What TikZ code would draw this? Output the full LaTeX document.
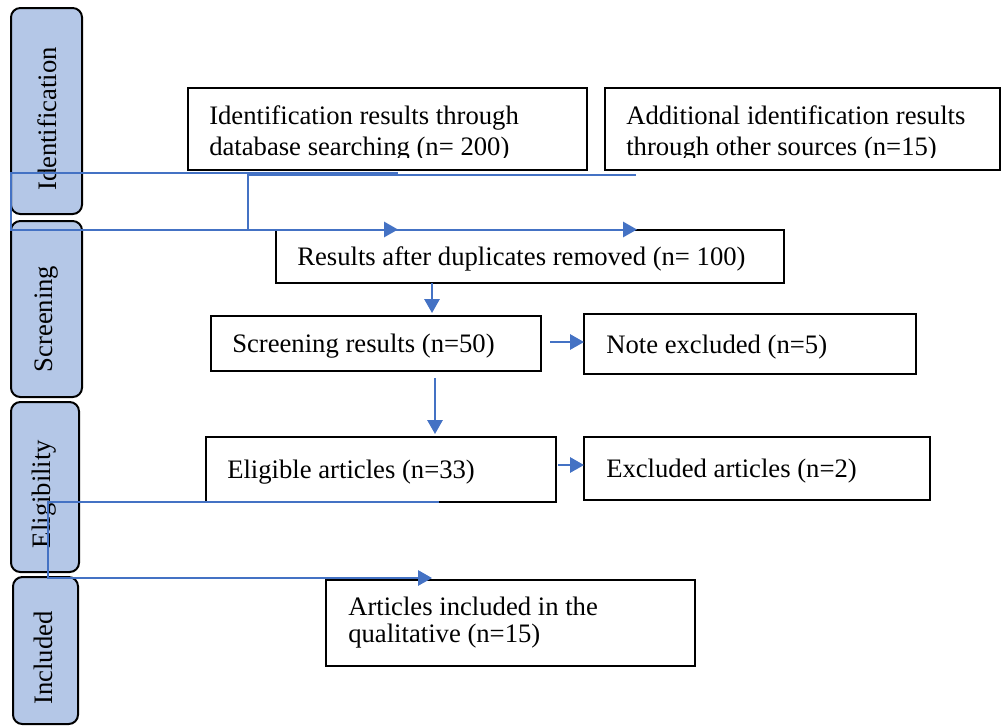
\documentclass[tikz,border=0pt]{standalone}
\usepackage{fontspec}
\setmainfont{Liberation Serif}
\usetikzlibrary{arrows.meta}
\definecolor{connblue}{HTML}{4472C4}
\definecolor{phasefill}{HTML}{B4C7E7}
\begin{document}
\begin{tikzpicture}[x=0.75pt,y=-0.75pt,
  box/.style={draw=black, line width=2.2pt, inner sep=0pt, outer sep=0pt, anchor=north west},
  phase/.style={draw=black, line width=1.5pt, fill=phasefill, rounded corners=7pt, inner sep=0pt, outer sep=0pt, anchor=north west},
  txt/.style={inner sep=0pt, anchor=base west, font=\fontsize{20pt}{24pt}\selectfont},
  ptxt/.style={inner sep=0pt, anchor=base, rotate=90, font=\fontsize{20pt}{24pt}\selectfont},
  conn/.style={draw=connblue, line width=1.5pt},
  arr/.style={conn, -{Triangle[length=10.5pt,width=11.5pt]}}]
\useasboundingbox (0,0) rectangle (1002,726);

% phase boxes
\node[phase, minimum width=53.25pt, minimum height=154.5pt] (p1) at (11,8) {};
\node[phase, minimum width=53.25pt, minimum height=132pt] (p2) at (11,221) {};
\node[phase, minimum width=51pt, minimum height=127.5pt] (p3) at (11,402) {};
\node[phase, minimum width=48.75pt, minimum height=110.25pt] (p4) at (13,577) {};
\node[ptxt] (l1) at (56,119) {Identification};
\node[ptxt] (l2) at (52,319) {Screening};
\node[ptxt] (l3) at (50,494) {Eligibility};
\node[ptxt] (l4) at (52,658) {Included};

% main boxes
\node[box, minimum width=299.25pt, minimum height=61.5pt] (b1) at (188,88) {};
\node[box, minimum width=296.25pt, minimum height=61.5pt] (b2) at (605,88) {};
\node[box, minimum width=381pt, minimum height=39.75pt] (b3) at (276,230) {};
\node[box, minimum width=247.5pt, minimum height=41.25pt] (b4) at (211,316) {};
\node[box, minimum width=249pt, minimum height=45pt] (b5) at (584,314) {};
\node[box, minimum width=262.5pt, minimum height=48.75pt] (b6) at (206,437) {};
\node[box, minimum width=259.5pt, minimum height=47.25pt] (b7) at (584,437) {};
\node[box, minimum width=276.75pt, minimum height=64.5pt] (b8) at (326,580) {};

% texts
\node[txt] (t1a) at (209,124) {Identification results through};
\node[txt] (t2a) at (626,124) {Additional identification results};
\begin{scope}
\clip (0,0) rectangle (1002,157.5);
\node[txt] (t1b) at (209,155) {database searching (n= 200)};
\node[txt] (t2b) at (626,155) {through other sources (n=15)};
\end{scope}
\node[txt] (t3) at (297,265) {Results after duplicates removed (n= 100)};
\node[txt] (t4) at (232,352) {Screening results (n=50)};
\node[txt] (t5) at (606,353) {Note excluded (n=5)};
\node[txt] (t6) at (227,478) {Eligible articles (n=33)};
\node[txt] (t7) at (606,477) {Excluded articles (n=2)};
\node[txt] (t8a) at (348,615) {Articles included in the};
\node[txt] (t8b) at (348,642) {qualitative (n=15)};

% connector anchors
\coordinate (c1s) at (398,173.3);
\coordinate (c1e) at (398,229.5);
\coordinate (c2s) at (636,174.5);
\coordinate (c2e) at (637,229.5);
\coordinate (c3s) at (439,502);
\coordinate (c3e) at (432,578);
\coordinate (xa) at (432,0);
\coordinate (xb) at (435,0);
\coordinate (ya) at (0,342);
\coordinate (yb) at (0,465);

% elbow connectors
\draw[arr] (c1s) -- ++(-387,0) |- (c1e);
\draw[arr] (c2s) -- ++(-388,0) |- (c2e);
\draw[arr] (c3s) -- ++(-391,0) |- (c3e);

% straight arrows
\draw[arr, shorten >=2.25pt] (b3.south -| xa) -- (b4.north -| xa);
\draw[arr, shorten <=5.25pt, shorten >=2.25pt] (b4.south -| xb) -- (b6.north -| xb);
\draw[arr, shorten <=6.75pt] (b4.east |- ya) -- (b5.west |- ya);
\draw[arr, shorten <=1.5pt] (b6.east |- yb) -- (b7.west |- yb);
\end{tikzpicture}
\end{document}
